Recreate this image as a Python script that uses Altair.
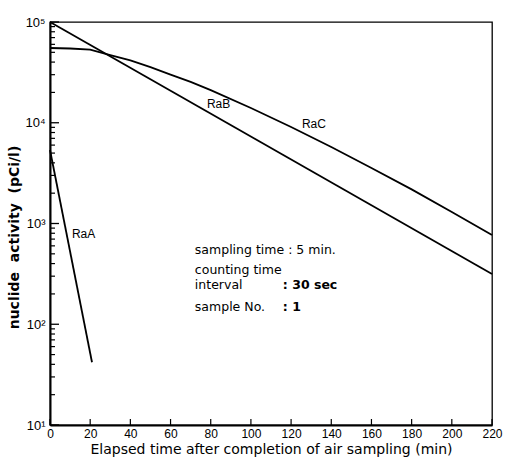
import altair as alt
import pandas as pd

# Elapsed time after sampling (min) and activity (pCi/l) of each daughter
raa_t = [0, 20.9]
raa_v = [5370, 42]
rab_t = [0, 220]
rab_v = [100000, 316]
rac_t = [0, 10, 20, 30, 40, 50, 60, 70, 80, 100, 120, 140, 160, 180, 200, 220]
rac_v = [55200, 54600, 53300, 47000, 41500, 35700, 30100, 25400, 21100,
         14000, 9080, 5740, 3560, 2180, 1300, 769]

# Curve labels
label_text = ["RaA", "RaB", "RaC"]
label_t = [10.9, 78.1, 125.4]
label_v = [787, 15350, 9730]

# Measurement conditions block: captions and values
note_text = ["sampling time : 5 min.", "counting time", "interval", "sample No."]
note_t = [72.1, 72.1, 72.1, 72.1]
note_v = [546, 346, 245, 148]
value_text = [": 30 sec", ": 1"]
value_t = [115.9, 115.9]
value_v = [245, 148]

# Axis ticks
x_ticks = list(range(0, 221, 20))
y_major = [10, 100, 1000, 10000, 100000]
y_minor = [m * 10 ** k for k in range(1, 5) for m in range(2, 10)]

W, H = 442, 403
FONT = "Liberation Sans"
WIDE = "DejaVu Sans"
NB = "\u00a0"

curves = pd.DataFrame({
    "t": raa_t + rab_t + rac_t,
    "v": raa_v + rab_v + rac_v,
    "nuclide": ["RaA"] * len(raa_t) + ["RaB"] * len(rab_t) + ["RaC"] * len(rac_t),
})
labels = pd.DataFrame({"t": label_t, "v": label_v, "text": label_text})
notes = pd.DataFrame({"t": note_t, "v": note_v, "text": note_text})
values = pd.DataFrame({"t": value_t, "v": value_v, "text": value_text})
xt = pd.DataFrame({"t": x_ticks})
ymaj = pd.DataFrame({"v": y_major})
ymin = pd.DataFrame({"v": y_minor})

x_scale = alt.Scale(domain=[0, 220], nice=False, zero=False)
y_scale = alt.Scale(type="log", domain=[10, 100000], nice=False)

sup = ("datum.value >= 100000 ? '10\u2075' : datum.value >= 10000 ? '10\u2074' : "
       "datum.value >= 1000 ? '10\u00b3' : datum.value >= 100 ? '10\u00b2' : '10\u00b9'")

x_axis = alt.Axis(values=x_ticks, ticks=False, grid=False, domainColor="black",
                  domainWidth=2, labelFont=FONT, labelFontSize=12, labelColor="black",
                  labelPadding=3, labelFlush=False,
                  title="Elapsed time after completion of air sampling (min)",
                  titleFont=WIDE, titleFontSize=14, titleFontWeight="normal",
                  titleColor="black", titlePadding=3)
y_axis = alt.Axis(values=y_major, ticks=False, grid=False, domainColor="black",
                  domainWidth=2, labelFont=FONT, labelFontSize=13, labelColor="black",
                  labelPadding=5, labelExpr=sup, labelFlush=False,
                  title=f"nuclide{NB}{NB}activity{NB}{NB}(pCi/l)", titleFont=WIDE,
                  titleFontSize=14, titleFontWeight="bold", titleColor="black",
                  titleX=-29, titleY=215, titleAngle=270, titleBaseline="bottom")

lines = alt.Chart(curves).mark_line(color="black", strokeWidth=1.8).encode(
    x=alt.X("t:Q", scale=x_scale, axis=x_axis),
    y=alt.Y("v:Q", scale=y_scale, axis=y_axis),
    detail="nuclide:N",
)

x_tick_marks = alt.Chart(xt).mark_rule(color="black", strokeWidth=1.2).encode(
    x=alt.X("t:Q", scale=x_scale), y=alt.value(H), y2=alt.value(H - 6))
y_major_marks = alt.Chart(ymaj).mark_rule(color="black", strokeWidth=1.3).encode(
    y=alt.Y("v:Q", scale=y_scale), x=alt.value(0), x2=alt.value(9))
y_minor_marks = alt.Chart(ymin).mark_rule(color="black", strokeWidth=1.2).encode(
    y=alt.Y("v:Q", scale=y_scale), x=alt.value(0), x2=alt.value(5))

curve_labels = alt.Chart(labels).mark_text(
    align="left", baseline="middle", font=FONT, fontSize=12, color="black").encode(
    x=alt.X("t:Q", scale=x_scale), y=alt.Y("v:Q", scale=y_scale), text="text:N")

note_marks = alt.Chart(notes).mark_text(
    align="left", baseline="middle", font=WIDE, fontSize=12.5, color="black").encode(
    x=alt.X("t:Q", scale=x_scale), y=alt.Y("v:Q", scale=y_scale), text="text:N")

value_marks = alt.Chart(values).mark_text(
    align="left", baseline="middle", font=WIDE, fontSize=12.5, fontWeight="bold",
    color="black").encode(
    x=alt.X("t:Q", scale=x_scale), y=alt.Y("v:Q", scale=y_scale), text="text:N")

chart = alt.layer(lines, x_tick_marks, y_major_marks, y_minor_marks,
                  curve_labels, note_marks, value_marks).properties(
    width=W, height=H,
    autosize=alt.AutoSizeParams(type="none"),
    padding={"left": 50, "top": 22, "right": 19, "bottom": 36},
    background="white",
).configure_view(stroke="black", strokeWidth=1.3)

chart.save("out.html", embed_options={"renderer": "svg", "actions": False})
